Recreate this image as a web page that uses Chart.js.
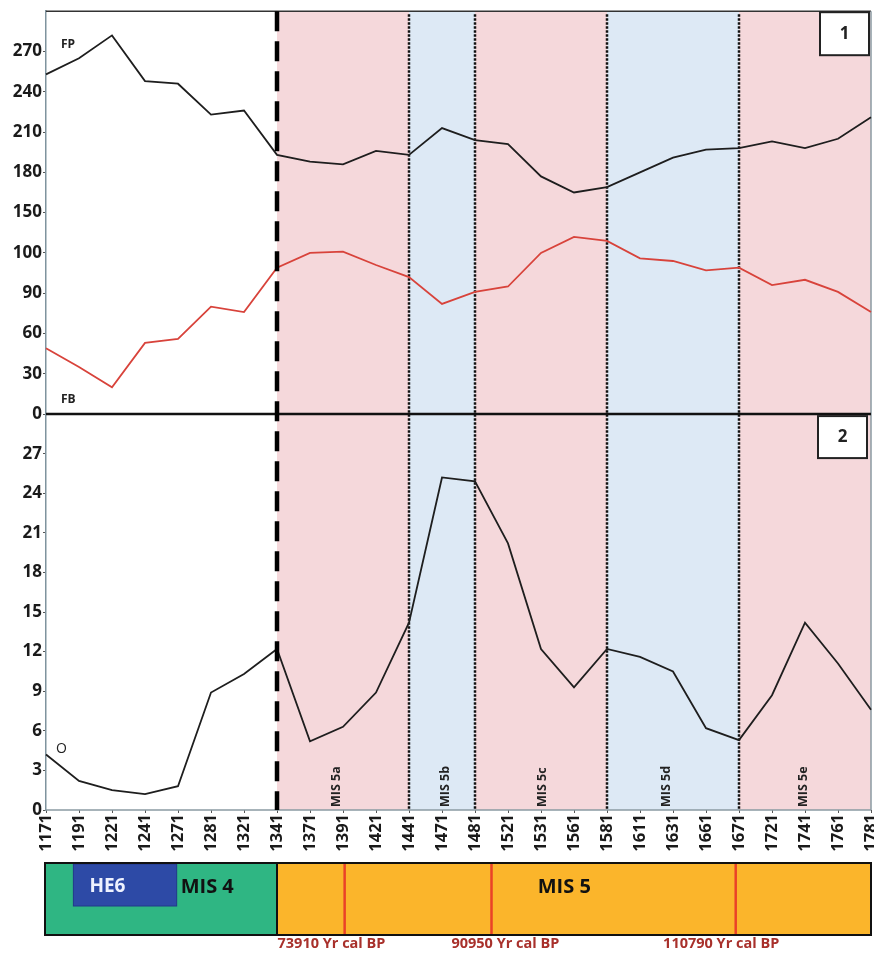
<!DOCTYPE html>
<html>
<head>
<meta charset="utf-8">
<script src="https://cdn.jsdelivr.net/npm/chart.js@4.4.0/dist/chart.umd.min.js"></script>
<style>
  html, body { margin: 0; padding: 0; background: #fff; }
</style>
</head>
<body>
<canvas id="chart" width="874" height="956"></canvas>
<script>
// depth samples (x axis)
const depths = ["1171", "1191", "1221", "1241", "1271", "1281", "1321", "1341", "1371", "1391",
  "1421", "1441", "1471", "1481", "1521", "1531", "1561", "1581", "1611", "1631",
  "1661", "1671", "1721", "1741", "1761", "1781"];

// panel 1
const fpValues = [253, 265, 282, 248, 246, 223, 226, 193, 188, 186, 196, 193, 213, 204, 201,
  177, 165, 169, 180, 191, 197, 198, 203, 198, 205, 221];
const fbValues = [49, 35, 20, 53, 56, 80, 76, 109, 120, 121, 111, 102, 82, 91, 95,
  120, 132, 129, 116, 114, 107, 109, 96, 100, 91, 76];
const fpTickLabels = ["0", "30", "60", "90", "100", "150", "180", "210", "240", "270"];

// panel 2
const oValues = [4.2, 2.2, 1.5, 1.2, 1.8, 8.9, 10.3, 12.2, 5.2, 6.3, 8.9, 14.2, 25.2, 24.9, 20.2,
  12.2, 9.3, 12.2, 11.6, 10.5, 6.2, 5.3, 8.7, 14.2, 11.1, 7.6];
const oTickLabels = ["0", "3", "6", "9", "12", "15", "18", "21", "24", "27"];

// stages, as positions on the depth axis (category index)
const warmBands = [[7, 11], [13, 17], [21, 25]];
const coldBands = [[11, 13], [17, 21]];
const stageLines = [11, 13, 17, 21];
const misNames = ["MIS 5a", "MIS 5b", "MIS 5c", "MIS 5d", "MIS 5e"];
const misAt = [8.8, 12.1, 15.05, 18.8, 22.95];
const dateNames = ["73910 Yr cal BP", "90950 Yr cal BP", "110790 Yr cal BP"];
const dateLineAt = [9.05, 13.5, 20.9];
const dateTextAt = [8.65, 13.92, 20.46];

const FONT = "'Open Sans', Lato, sans-serif";

const stagePlugin = {
  id: "stages",
  beforeDatasetsDraw(chart) {
    const { ctx, chartArea: a, scales } = chart;
    const x = scales.x, y = scales.y;
    ctx.save();
    ctx.fillStyle = "#f5d8db";
    warmBands.forEach(([s, e]) => {
      const x0 = x.getPixelForValue(s), x1 = x.getPixelForValue(e);
      ctx.fillRect(x0, a.top, x1 - x0, a.bottom - a.top);
    });
    ctx.fillStyle = "#dde9f5";
    coldBands.forEach(([s, e]) => {
      const x0 = x.getPixelForValue(s), x1 = x.getPixelForValue(e);
      ctx.fillRect(x0, a.top, x1 - x0, a.bottom - a.top);
    });
    // dotted stage limits
    ctx.strokeStyle = "#111";
    ctx.lineWidth = 2.5;
    ctx.setLineDash([2.5, 1.5]);
    stageLines.forEach(i => {
      const px = Math.round(x.getPixelForValue(i));
      ctx.beginPath();
      ctx.moveTo(px, a.top + 3);
      ctx.lineTo(px, a.bottom);
      ctx.stroke();
    });
    ctx.setLineDash([]);
    // frame
    ctx.strokeStyle = "#333";
    ctx.lineWidth = 1.5;
    ctx.beginPath();
    ctx.moveTo(a.left, a.top);
    ctx.lineTo(a.right, a.top);
    ctx.stroke();
    ctx.strokeStyle = "#8a9aa3";
    ctx.beginPath();
    ctx.moveTo(a.right, a.top);
    ctx.lineTo(a.right, a.bottom);
    ctx.moveTo(a.left, a.bottom);
    ctx.lineTo(a.right, a.bottom);
    ctx.stroke();
    // zero line between panels
    ctx.strokeStyle = "#111";
    ctx.lineWidth = 2.5;
    ctx.beginPath();
    ctx.moveTo(a.left, y.bottom);
    ctx.lineTo(a.right, y.bottom);
    ctx.stroke();
    ctx.restore();
  },
  afterDatasetsDraw(chart) {
    const { ctx, chartArea: a, scales } = chart;
    const x = scales.x, y = scales.y, y2 = scales.y2;
    ctx.save();
    // thick dashed MIS 4 / MIS 5 limit
    const px = x.getPixelForValue(7);
    ctx.strokeStyle = "#000";
    ctx.lineWidth = 4.5;
    ctx.setLineDash([20, 10]);
    ctx.beginPath();
    ctx.moveTo(px, a.top);
    ctx.lineTo(px, a.bottom);
    ctx.stroke();
    ctx.setLineDash([]);

    // panel number boxes
    ctx.lineWidth = 2;
    ctx.strokeStyle = "#222";
    ctx.fillStyle = "#fff";
    ctx.fillRect(a.right - 51, a.top + 1, 49, 43);
    ctx.strokeRect(a.right - 51, a.top + 1, 49, 43);
    ctx.fillRect(a.right - 53, y.bottom + 2, 49, 42);
    ctx.strokeRect(a.right - 53, y.bottom + 2, 49, 42);
    ctx.fillStyle = "#222";
    ctx.font = "bold 17px " + FONT;
    ctx.textAlign = "center";
    ctx.textBaseline = "middle";
    ctx.fillText("1", a.right - 26.5, a.top + 23);
    ctx.fillText("2", a.right - 28.5, y.bottom + 23);

    // series names
    ctx.font = "bold 12px " + FONT;
    ctx.textAlign = "left";
    ctx.fillText("FP", a.left + 15, a.top + 33);
    ctx.fillText("FB", a.left + 15, y.bottom - 15);
    ctx.font = "14px " + FONT;
    ctx.fillText("O", a.left + 10, y2.getPixelForValue(4.6));

    // MIS 5 substage names
    ctx.font = "bold 12.5px " + FONT;
    misNames.forEach((t, i) => {
      ctx.save();
      ctx.translate(x.getPixelForValue(misAt[i]), a.bottom - 3);
      ctx.rotate(-Math.PI / 2);
      ctx.textAlign = "left";
      ctx.textBaseline = "middle";
      ctx.fillText(t, 0, 0);
      ctx.restore();
    });
    ctx.restore();
  },
  afterDraw(chart) {
    const { ctx, chartArea: a, scales } = chart;
    const x = scales.x;
    const top = 863, bottom = 935;
    const left = a.left - 1, right = a.right;
    const split = x.getPixelForValue(7);
    ctx.save();
    ctx.fillStyle = "#2fb683";
    ctx.fillRect(left, top, split - left, bottom - top);
    ctx.fillStyle = "#fbb52b";
    ctx.fillRect(split, top, right - split, bottom - top);
    // HE6
    const h0 = x.getPixelForValue(0.83), h1 = x.getPixelForValue(3.96);
    ctx.fillStyle = "#2d4aa6";
    ctx.fillRect(h0, top + 1, h1 - h0, 42);
    ctx.strokeStyle = "#22388a";
    ctx.lineWidth = 1;
    ctx.strokeRect(h0, top + 1, h1 - h0, 42);
    // date limits
    ctx.strokeStyle = "#ea4228";
    ctx.lineWidth = 2.5;
    dateLineAt.forEach(i => {
      const px = x.getPixelForValue(i);
      ctx.beginPath();
      ctx.moveTo(px, top);
      ctx.lineTo(px, bottom);
      ctx.stroke();
    });
    ctx.strokeStyle = "#111";
    ctx.lineWidth = 2;
    ctx.beginPath();
    ctx.moveTo(split, top);
    ctx.lineTo(split, bottom);
    ctx.stroke();
    ctx.strokeRect(left, top, right - left, bottom - top);

    ctx.textBaseline = "middle";
    ctx.textAlign = "left";
    ctx.fillStyle = "#eef2ff";
    ctx.font = "bold 19px " + FONT;
    ctx.fillText("HE6", h0 + 16, top + 24);
    ctx.fillStyle = "#111";
    ctx.font = "bold 20px " + FONT;
    ctx.fillText("MIS 4", h1 + 4, top + 24);
    ctx.fillText("MIS 5", x.getPixelForValue(14.9), top + 24);

    ctx.fillStyle = "#a8302b";
    ctx.font = "bold 14.5px " + FONT;
    ctx.textAlign = "center";
    dateNames.forEach((t, i) => {
      ctx.fillText(t, x.getPixelForValue(dateTextAt[i]), bottom + 9);
    });
    ctx.restore();
  }
};

function build() {
  new Chart(document.getElementById("chart"), {
    type: "line",
    data: {
      labels: depths,
      datasets: [
        { label: "FP", data: fpValues, yAxisID: "y", borderColor: "#1e1e1e", borderWidth: 1.8 },
        { label: "FB", data: fbValues, yAxisID: "y", borderColor: "#d8433b", borderWidth: 1.8 },
        { label: "O", data: oValues, yAxisID: "y2", borderColor: "#1e1e1e", borderWidth: 1.8 }
      ]
    },
    options: {
      responsive: false,
      animation: false,
      events: [],
      elements: { point: { radius: 0 }, line: { tension: 0 } },
      layout: { padding: { top: 8, right: 3, left: 0, bottom: 96 } },
      plugins: { legend: { display: false }, tooltip: { enabled: false } },
      scales: {
        x: {
          offset: false,
          grid: { drawOnChartArea: false, tickLength: 3, color: "#555" },
          border: { display: false },
          ticks: {
            autoSkip: false, maxRotation: 90, minRotation: 90, padding: 1,
            color: "#1a1a1a", font: { family: FONT, size: 16.5, weight: "bold" }
          },
          afterFit: s => { s.height = 50; s.paddingLeft = 0; s.paddingRight = 0; }
        },
        // bottom panel listed first so that it is stacked below
        y2: {
          stack: "panels", stackWeight: 397, position: "left",
          min: 0, max: 30,
          grid: { drawOnChartArea: false, tickLength: 3, color: "#555" },
          border: { color: "#7f939e", width: 1.5 },
          ticks: {
            stepSize: 3, padding: 1, autoSkip: false, color: "#1a1a1a",
            font: { family: FONT, size: 17, weight: "bold" },
            callback: v => oTickLabels[Math.round(v / 3)] ?? null
          },
          afterFit: s => { s.width = 46; }
        },
        y: {
          stack: "panels", stackWeight: 404, position: "left",
          min: 0, max: 300,
          grid: { drawOnChartArea: false, tickLength: 3, color: "#555" },
          border: { color: "#7f939e", width: 1.5 },
          ticks: {
            stepSize: 30, padding: 1, autoSkip: false, color: "#1a1a1a",
            font: { family: FONT, size: 17, weight: "bold" },
            callback: v => fpTickLabels[Math.round(v / 30)] ?? null
          },
          afterFit: s => { s.width = 46; }
        }
      }
    },
    plugins: [stagePlugin]
  });
}

Promise.all([
  document.fonts.load("bold 16px 'Open Sans'"),
  document.fonts.load("16px 'Open Sans'")
]).then(build, build);
</script>
</body>
</html>
